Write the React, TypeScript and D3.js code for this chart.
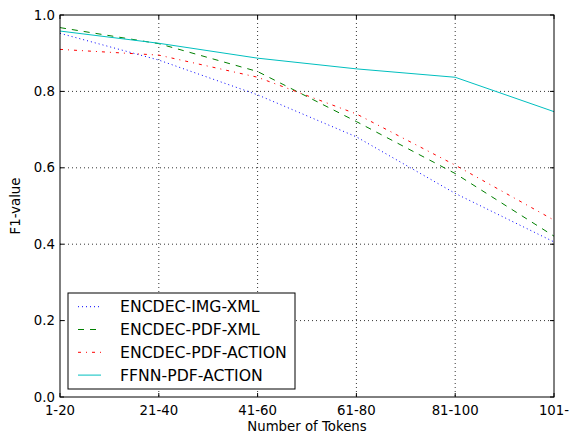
import * as d3 from 'd3';
import React, { useEffect, useRef } from 'react';

const categories = ['1-20', '21-40', '41-60', '61-80', '81-100', '101-'];
const yTicks = [0, 0.2, 0.4, 0.6, 0.8, 1.0];

const encdecImgXml = [0.952, 0.882, 0.791, 0.681, 0.533, 0.406];
const encdecPdfXml = [0.967, 0.925, 0.852, 0.721, 0.585, 0.421];
const encdecPdfAction = [0.910, 0.895, 0.837, 0.741, 0.607, 0.463];
const ffnnPdfAction = [0.958, 0.926, 0.887, 0.859, 0.837, 0.747];

const seriesNames = ['ENCDEC-IMG-XML', 'ENCDEC-PDF-XML', 'ENCDEC-PDF-ACTION', 'FFNN-PDF-ACTION'];

const App = () => {
  const ref = useRef<SVGSVGElement>(null);

  useEffect(() => {
    const W = 574, H = 434;
    const margin = { top: 15, right: 20, bottom: 37, left: 60 };
    const width = W - margin.left - margin.right;
    const height = H - margin.top - margin.bottom;

    const root = d3.select(ref.current);
    root.selectAll('*').remove();
    root.attr('width', W).attr('height', H);
    root.append('rect').attr('width', W).attr('height', H).attr('fill', '#fff');

    const svg = root.append('g').attr('transform', `translate(${margin.left},${margin.top})`);

    const x = d3.scalePoint<string>().domain(categories).range([0, width]);
    const y = d3.scaleLinear().domain([0, 1]).range([height, 0]);

    const font = 'DejaVu Sans, sans-serif';
    const fs = 13.3;

    // grid, dotted black
    svg.append('g').selectAll('line.gx')
      .data(categories.slice(1, -1))
      .join('line')
      .attr('x1', d => x(d)!).attr('x2', d => x(d)!)
      .attr('y1', 0).attr('y2', height)
      .attr('stroke', '#000').attr('stroke-width', 0.8).attr('stroke-dasharray', '1,3');
    svg.append('g').selectAll('line.gy')
      .data(yTicks.slice(1, -1))
      .join('line')
      .attr('y1', d => y(d)).attr('y2', d => y(d))
      .attr('x1', 0).attr('x2', width)
      .attr('stroke', '#000').attr('stroke-width', 0.8).attr('stroke-dasharray', '1,3');

    // lines
    const series = [
      { name: seriesNames[0], values: encdecImgXml, color: '#0000ff', dash: '1,3' },
      { name: seriesNames[1], values: encdecPdfXml, color: '#008000', dash: '6,6' },
      { name: seriesNames[2], values: encdecPdfAction, color: '#ff0000', dash: '3,5,1,5' },
      { name: seriesNames[3], values: ffnnPdfAction, color: '#00bfbf', dash: null },
    ];

    const line = d3.line<number>()
      .x((_, i) => x(categories[i])!)
      .y(d => y(d));

    series.forEach(s => {
      svg.append('path')
        .attr('d', line(s.values))
        .attr('fill', 'none')
        .attr('stroke', s.color)
        .attr('stroke-width', 1)
        .attr('stroke-dasharray', s.dash);
    });

    // frame
    svg.append('rect')
      .attr('width', width).attr('height', height)
      .attr('fill', 'none').attr('stroke', '#000').attr('stroke-width', 1);

    // ticks (inward, both sides)
    const tl = 4;
    categories.forEach(c => {
      const px = x(c)!;
      svg.append('line').attr('x1', px).attr('x2', px).attr('y1', height).attr('y2', height - tl).attr('stroke', '#000');
      svg.append('line').attr('x1', px).attr('x2', px).attr('y1', 0).attr('y2', tl).attr('stroke', '#000');
      svg.append('text').attr('x', px).attr('y', height + 18)
        .attr('text-anchor', 'middle').attr('font-family', font).attr('font-size', fs).text(c);
    });
    yTicks.forEach(t => {
      const py = y(t);
      svg.append('line').attr('x1', 0).attr('x2', tl).attr('y1', py).attr('y2', py).attr('stroke', '#000');
      svg.append('line').attr('x1', width).attr('x2', width - tl).attr('y1', py).attr('y2', py).attr('stroke', '#000');
      svg.append('text').attr('x', -5).attr('y', py).attr('dy', '0.35em')
        .attr('text-anchor', 'end').attr('font-family', font).attr('font-size', fs).text(d3.format('.1f')(t));
    });

    // axis labels
    svg.append('text').attr('x', width / 2).attr('y', height + 34)
      .attr('text-anchor', 'middle').attr('font-family', font).attr('font-size', fs).text('Number of Tokens');
    svg.append('text').attr('transform', `translate(${-40},${height / 2}) rotate(-90)`)
      .attr('text-anchor', 'middle').attr('font-family', font).attr('font-size', fs).text('F1-value');

    // legend
    const lg = svg.append('g').attr('transform', `translate(${68 - margin.left},${293 - margin.top})`);
    lg.append('rect').attr('width', 227).attr('height', 96)
      .attr('fill', '#fff').attr('stroke', '#000').attr('stroke-width', 1);
    series.forEach((s, i) => {
      const ly = 13.7 + i * 22.8;
      lg.append('line').attr('x1', 10).attr('x2', 33).attr('y1', ly).attr('y2', ly)
        .attr('stroke', s.color).attr('stroke-width', 1).attr('stroke-dasharray', s.dash);
      lg.append('text').attr('x', 52).attr('y', ly).attr('dy', '0.35em')
        .attr('font-family', font).attr('font-size', 15.7).text(s.name);
    });
  }, []);

  return <svg ref={ref} style={{ position: 'absolute', left: 0, top: 0 }}></svg>;
};

export default App;
